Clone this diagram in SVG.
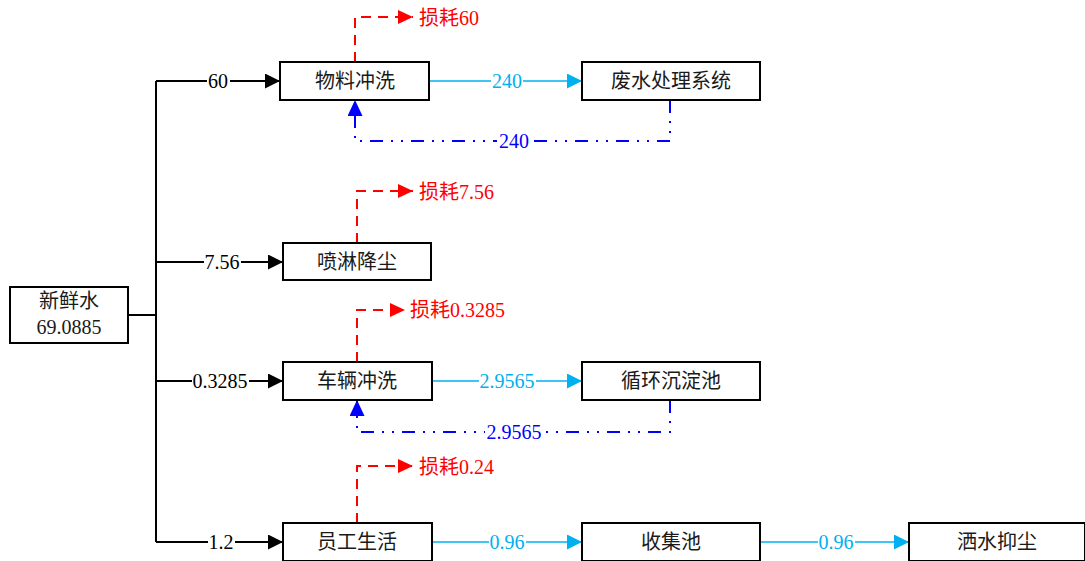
<svg xmlns="http://www.w3.org/2000/svg" width="1085" height="561" viewBox="0 0 1085 561">
<style>
.box{fill:#fff;stroke:#000;stroke-width:2}
.t{font-family:"Liberation Serif","Noto Sans CJK SC",serif;font-size:20px;fill:#1a1a1a;text-anchor:middle}
.blk{fill:none;stroke:#000;stroke-width:2}
.cy{fill:none;stroke:#00b0f0;stroke-width:1.6}
.red{fill:none;stroke:#f00;stroke-width:2;stroke-dasharray:10 7}
.blu{fill:none;stroke:#00f;stroke-width:2;stroke-dasharray:13 8 2 8 2 8}
.bg{fill:#fff}
.lb{font-family:"Liberation Serif","Noto Sans CJK SC",serif;font-size:20px;text-anchor:middle}
.lk{fill:#000}.lc{fill:#00b0f0}.lbl{fill:#00f}
.rt{font-family:"Liberation Serif","Noto Sans CJK SC",serif;font-size:20px;fill:#f00}
</style>
<defs>
<marker id="ak" markerWidth="15" markerHeight="15" refX="15" refY="7.5" orient="auto" markerUnits="userSpaceOnUse"><path d="M0,0 L15,7.5 L0,15 Z" fill="#000"/></marker>
<marker id="ac" markerWidth="15" markerHeight="15" refX="15" refY="7.5" orient="auto" markerUnits="userSpaceOnUse"><path d="M0,0 L15,7.5 L0,15 Z" fill="#00b0f0"/></marker>
<marker id="ar" markerWidth="15" markerHeight="14" refX="15" refY="7" orient="auto" markerUnits="userSpaceOnUse"><path d="M0,0 L15,7 L0,14 Z" fill="#f00"/></marker>
<marker id="ab" markerWidth="16" markerHeight="15" refX="16" refY="7.5" orient="auto" markerUnits="userSpaceOnUse"><path d="M0,0 L16,7.5 L0,15 Z" fill="#00f"/></marker>
</defs>
<g id="connectors">
<path class="blk" d="M128,315 H156"/>
<path class="blk" d="M156,81 V542"/>
<path class="blk" d="M156,81 H280" marker-end="url(#ak)"/>
<path class="blk" d="M156,262 H283" marker-end="url(#ak)"/>
<path class="blk" d="M156,381 H283" marker-end="url(#ak)"/>
<path class="blk" d="M156,542 H283" marker-end="url(#ak)"/>
<path class="cy" d="M429,81 H582" marker-end="url(#ac)"/>
<path class="cy" d="M432,381 H582" marker-end="url(#ac)"/>
<path class="cy" d="M432,542 H582" marker-end="url(#ac)"/>
<path class="cy" d="M760,542 H909" marker-end="url(#ac)"/>
<path class="red" d="M355,62 V17 H413" marker-end="url(#ar)"/>
<path class="red" d="M357,243 V191 H413" marker-end="url(#ar)"/>
<path class="red" d="M357,362 V310 H405" marker-end="url(#ar)"/>
<path class="red" d="M357,523 V466 H413" marker-end="url(#ar)"/>
<path class="blu" d="M670,100 V141 H355 V100" marker-end="url(#ab)"/>
<path class="blu" d="M670,400 V432 H357 V400" marker-end="url(#ab)"/>
<rect class="bg" x="207" y="72" width="23" height="18"/>
<rect class="bg" x="204" y="253" width="37" height="18"/>
<rect class="bg" x="192" y="372" width="57" height="18"/>
<rect class="bg" x="208" y="533" width="27" height="18"/>
<rect class="bg" x="491" y="72" width="32" height="18"/>
<rect class="bg" x="479" y="372" width="57" height="18"/>
<rect class="bg" x="489" y="533" width="37" height="18"/>
<rect class="bg" x="818" y="533" width="37" height="18"/>
<rect class="bg" x="497" y="132" width="34" height="18"/>
<rect class="bg" x="485" y="423" width="58" height="18"/>
<text class="lb lk" x="218" y="88">60</text>
<text class="lb lk" x="222" y="269">7.56</text>
<text class="lb lk" x="220" y="388">0.3285</text>
<text class="lb lk" x="221" y="549">1.2</text>
<text class="lb lc" x="507" y="88">240</text>
<text class="lb lc" x="507" y="388">2.9565</text>
<text class="lb lc" x="507" y="549">0.96</text>
<text class="lb lc" x="836" y="549">0.96</text>
<text class="lb lbl" x="514" y="148">240</text>
<text class="lb lbl" x="514" y="439">2.9565</text>
<text class="rt" x="419" y="25">损耗60</text>
<text class="rt" x="419" y="199">损耗7.56</text>
<text class="rt" x="410" y="317">损耗0.3285</text>
<text class="rt" x="419" y="474">损耗0.24</text>
</g>
<g id="n-fresh"><rect class="box" x="10" y="287" width="118" height="56"/><text class="t" x="69" y="308">新鲜水</text><text class="t" x="69" y="334">69.0885</text></g>
<g id="n-wlcx"><rect class="box" x="280" y="62" width="149" height="38"/><text class="t" x="355" y="88">物料冲洗</text></g>
<g id="n-fscl"><rect class="box" x="582" y="62" width="178" height="38"/><text class="t" x="671" y="88">废水处理系统</text></g>
<g id="n-pljc"><rect class="box" x="283" y="243" width="148" height="37"/><text class="t" x="357" y="269">喷淋降尘</text></g>
<g id="n-clcx"><rect class="box" x="283" y="362" width="149" height="38"/><text class="t" x="357" y="388">车辆冲洗</text></g>
<g id="n-xhcd"><rect class="box" x="582" y="362" width="178" height="38"/><text class="t" x="671" y="388">循环沉淀池</text></g>
<g id="n-ygsh"><rect class="box" x="283" y="523" width="149" height="38"/><text class="t" x="357" y="549">员工生活</text></g>
<g id="n-sjc"><rect class="box" x="582" y="523" width="178" height="38"/><text class="t" x="671" y="549">收集池</text></g>
<g id="n-ssyc"><rect class="box" x="909" y="523" width="176" height="38"/><text class="t" x="997" y="549">洒水抑尘</text></g>
</svg>
